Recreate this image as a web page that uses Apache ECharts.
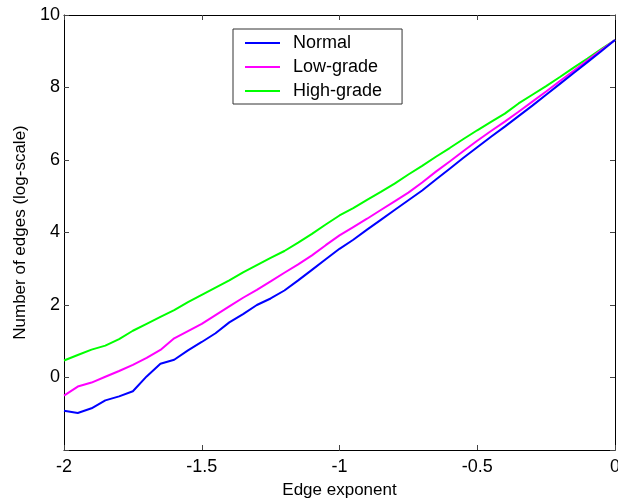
<!DOCTYPE html>
<html>
<head>
<meta charset="utf-8">
<script src="https://cdn.jsdelivr.net/npm/echarts@6/dist/echarts.min.js"></script>
<style>
  html, body { margin: 0; padding: 0; background: #fff; }
  #chart { width: 618px; height: 500px; }
</style>
</head>
<body>
<div id="chart"></div>
<script>
// Edge exponent sample positions
const exponents = [
  -2.00, -1.95, -1.90, -1.85, -1.80, -1.75, -1.70, -1.65, -1.60, -1.55,
  -1.50, -1.45, -1.40, -1.35, -1.30, -1.25, -1.20, -1.15, -1.10, -1.05,
  -1.00, -0.95, -0.90, -0.85, -0.80, -0.75, -0.70, -0.65, -0.60, -0.55,
  -0.50, -0.45, -0.40, -0.35, -0.30, -0.25, -0.20, -0.15, -0.10, -0.05, 0.00
];

// Number of edges (log-scale) per tissue class
const normal = [
  -0.92, -0.98, -0.85, -0.63, -0.52, -0.38, 0.03, 0.38, 0.49, 0.75,
  0.98, 1.22, 1.52, 1.75, 2.00, 2.18, 2.40, 2.68, 2.97, 3.26,
  3.55, 3.80, 4.08, 4.35, 4.62, 4.89, 5.16, 5.46, 5.76, 6.06,
  6.35, 6.64, 6.92, 7.21, 7.50, 7.80, 8.10, 8.40, 8.70, 9.00, 9.31
];
const lowGrade = [
  -0.50, -0.25, -0.14, 0.02, 0.18, 0.35, 0.54, 0.76, 1.08, 1.28,
  1.48, 1.72, 1.96, 2.20, 2.42, 2.65, 2.89, 3.12, 3.37, 3.65,
  3.92, 4.15, 4.38, 4.62, 4.86, 5.10, 5.38, 5.68, 5.96, 6.25,
  6.53, 6.80, 7.06, 7.33, 7.61, 7.89, 8.18, 8.46, 8.75, 9.03, 9.31
];
const highGrade = [
  0.47, 0.62, 0.77, 0.88, 1.06, 1.29, 1.48, 1.67, 1.86, 2.08,
  2.28, 2.48, 2.68, 2.90, 3.10, 3.30, 3.49, 3.72, 3.96, 4.22,
  4.47, 4.67, 4.90, 5.12, 5.35, 5.60, 5.84, 6.09, 6.33, 6.58,
  6.82, 7.05, 7.28, 7.56, 7.80, 8.04, 8.29, 8.55, 8.80, 9.06, 9.31
];

const seriesNames = ['Normal', 'Low-grade', 'High-grade'];
const seriesColors = ['#0000ff', '#ff00ff', '#00ff00'];
const seriesValues = [normal, lowGrade, highGrade];

const FONT = '"Liberation Sans", Arial, sans-serif';

const chart = echarts.init(document.getElementById('chart'), null, { renderer: 'canvas' });

const frameLine = { show: true, onZero: false, lineStyle: { color: '#000', width: 1 } };
const insideTicks = { show: true, inside: true, length: 5, lineStyle: { color: '#444', width: 1 } };

chart.setOption({
  animation: false,
  backgroundColor: '#fff',
  textStyle: { fontFamily: FONT },
  grid: { left: 64, right: 3, top: 15, bottom: 50, containLabel: false, outerBoundsMode: 'none' },
  legend: {
    data: seriesNames,
    orient: 'vertical',
    left: 233,
    top: 29,
    padding: [5, 20, 4, 12],
    icon: 'rect',
    itemWidth: 35,
    itemHeight: 2,
    itemGap: 6,
    borderColor: '#333',
    borderWidth: 1,
    backgroundColor: '#fff',
    textStyle: { fontFamily: FONT, fontSize: 18, color: '#000', padding: [0, 0, 0, 8] }
  },
  xAxis: [
    {
      type: 'value', position: 'bottom', min: -2, max: 0, interval: 0.5,
      name: 'Edge exponent', nameLocation: 'middle', nameGap: 32,
      nameTextStyle: { fontFamily: FONT, fontSize: 17, color: '#000' },
      axisLine: frameLine, axisTick: insideTicks,
      axisLabel: { fontFamily: FONT, fontSize: 18, color: '#000', margin: 8 },
      splitLine: { show: false }
    },
    {
      type: 'value', position: 'top', min: -2, max: 0, interval: 0.5,
      axisLine: frameLine, axisTick: insideTicks,
      axisLabel: { show: false }, splitLine: { show: false }
    }
  ],
  yAxis: [
    {
      type: 'value', position: 'left', min: -2, max: 10, interval: 2,
      name: 'Number of edges (log-scale)', nameLocation: 'middle', nameGap: 34, nameRotate: 90,
      nameTextStyle: { fontFamily: FONT, fontSize: 17, color: '#000' },
      axisLine: frameLine, axisTick: insideTicks,
      axisLabel: {
        fontFamily: FONT, fontSize: 18, color: '#000', margin: 4,
        formatter: v => (v === -2 ? '' : String(v))
      },
      splitLine: { show: false }
    },
    {
      type: 'value', position: 'right', min: -2, max: 10, interval: 2,
      axisLine: frameLine, axisTick: insideTicks,
      axisLabel: { show: false }, splitLine: { show: false }
    }
  ],
  series: seriesNames.map((name, i) => ({
    name,
    type: 'line',
    xAxisIndex: 0,
    yAxisIndex: 0,
    data: exponents.map((x, j) => [x, seriesValues[i][j]]),
    symbol: 'none',
    color: seriesColors[i],
    lineStyle: { color: seriesColors[i], width: 2 },
    z: 3 - i
  }))
});
</script>
</body>
</html>
